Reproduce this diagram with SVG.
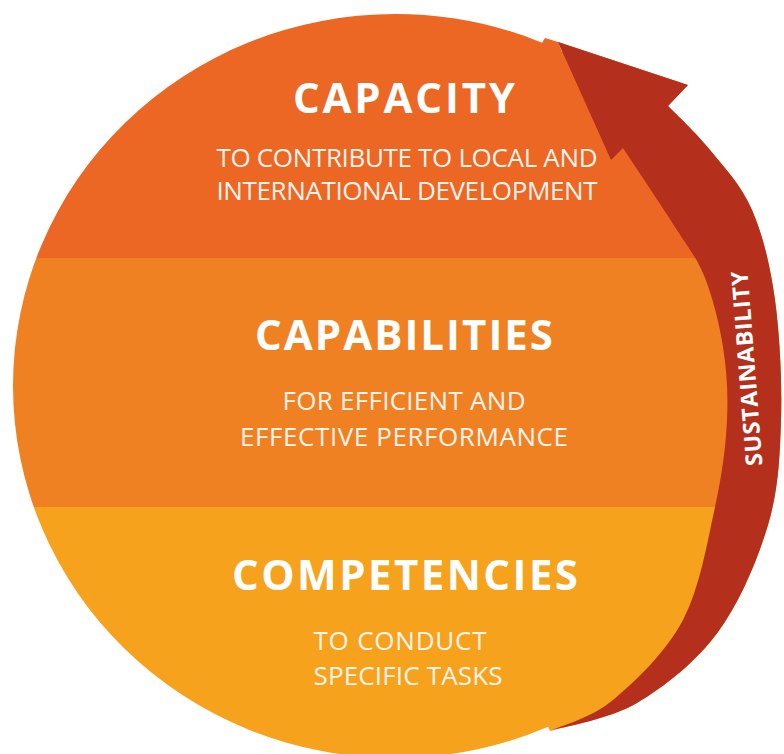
<svg xmlns="http://www.w3.org/2000/svg" xmlns:xlink="http://www.w3.org/1999/xlink" width="784" height="754" viewBox="0 0 784 754">
  <style>
    .title { font-family: "Open Sans", "Liberation Sans", sans-serif; font-weight: 700; font-size: 42px; fill: #ffffff; text-anchor: middle; }
    .sub { font-family: "Open Sans", "Liberation Sans", sans-serif; font-weight: 400; font-size: 26px; fill: #fff4ec; text-anchor: middle; }
    .arrowlabel { font-family: "Open Sans", "Liberation Sans", sans-serif; font-weight: 700; font-size: 23px; fill: #ffffff; text-anchor: middle; }
  </style>
  <defs>
    <path id="arrowShape" d="M558,42 L688,85 L668,106
      C675,113.3 696,132.7 710,150
      C724,167.3 741.2,185 752,210
      C762.8,235 770.2,265 775,300
      C779.8,335 782.2,382.5 781,420
      C779.8,457.5 778.5,489.7 768,525
      C757.5,560.3 739.8,602.3 718,632
      C696.2,661.7 665,686.5 637,703
      C609,719.5 564.5,726.3 550,731
      C560.5,725.8 590.8,718.5 613,700
      C635.2,681.5 666,652.2 683,620
      C700,587.8 707.7,540.3 715,507
      C722.3,473.7 725.7,446.7 727,420
      C728.3,393.3 726.7,370.7 723,347
      C719.3,323.3 712.7,297.5 705,278
      C697.3,258.5 690.7,251.7 677,230
      C663.3,208.3 632,161.7 623,148
      L611,160 Z"/>
    <clipPath id="discClip">
      <ellipse cx="395" cy="386" rx="382" ry="372"/>
      <use xlink:href="#arrowShape"/>
      <path d="M550,731
      C560.5,725.8 590.8,718.5 613,700
      C635.2,681.5 666,652.2 683,620
      C700,587.8 707.7,540.3 715,507
      C722.3,473.7 725.7,446.7 727,420
      C728.3,393.3 726.7,370.7 723,347
      C719.3,323.3 712.7,297.5 705,278
      C697.3,258.5 690.7,251.7 677,230
      C663.3,208.3 632,161.7 623,148
      L400,386 Z"/>
      <polygon points="530,62 545,38 558,42 566,62"/>
    </clipPath>
  </defs>

  <g id="bands" clip-path="url(#discClip)">
    <rect x="0" y="0" width="784" height="258" fill="#ec6624"/>
    <rect x="0" y="258" width="784" height="249" fill="#f08122"/>
    <rect x="0" y="507" width="784" height="247" fill="#f6a21d"/>
  </g>

  <g id="node-capacity">
    <text class="title" x="404" y="113" textLength="222" lengthAdjust="spacing">CAPACITY</text>
    <text class="sub" x="407" y="167" textLength="381" lengthAdjust="spacing">TO CONTRIBUTE TO LOCAL AND</text>
    <text class="sub" x="407" y="200" textLength="381" lengthAdjust="spacing">INTERNATIONAL DEVELOPMENT</text>
  </g>

  <g id="node-capabilities">
    <text class="title" x="404" y="350" textLength="298" lengthAdjust="spacing">CAPABILITIES</text>
    <text class="sub" x="404" y="410" textLength="243" lengthAdjust="spacing">FOR EFFICIENT AND</text>
    <text class="sub" x="404" y="446" textLength="328" lengthAdjust="spacing">EFFECTIVE PERFORMANCE</text>
  </g>

  <g id="node-competencies">
    <text class="title" x="405" y="590" textLength="346" lengthAdjust="spacing">COMPETENCIES</text>
    <text class="sub" x="400" y="650" textLength="173" lengthAdjust="spacing">TO CONDUCT</text>
    <text class="sub" x="408" y="685" textLength="189" lengthAdjust="spacing">SPECIFIC TASKS</text>
  </g>

  <g id="connectors">
    <use id="sustainability-arrow" xlink:href="#arrowShape" fill="#b42f1c"/>
    <text class="arrowlabel" x="755" y="368" textLength="195" lengthAdjust="spacing" transform="rotate(-94.4 755 368)">SUSTAINABILITY</text>
  </g>
</svg>
